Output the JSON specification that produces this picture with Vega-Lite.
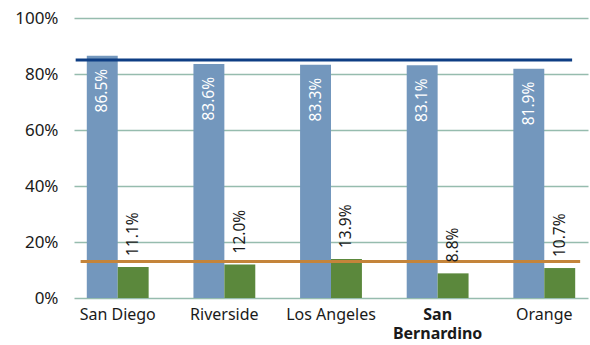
{
  "$schema": "https://vega.github.io/schema/vega-lite/v6.json",
  "autosize": "none",
  "width": 514,
  "height": 280,
  "padding": {"left": 74, "top": 18, "right": 2, "bottom": 47},
  "background": "white",
  "config": {"view": {"stroke": null}, "font": "Noto Sans"},
  "datasets": {
    "bars": [
      {"city": "San Diego", "series": "A", "value": 86.5, "label": "86.5%"},
      {"city": "San Diego", "series": "B", "value": 11.1, "label": "11.1%"},
      {"city": "Riverside", "series": "A", "value": 83.6, "label": "83.6%"},
      {"city": "Riverside", "series": "B", "value": 12.0, "label": "12.0%"},
      {"city": "Los Angeles", "series": "A", "value": 83.3, "label": "83.3%"},
      {"city": "Los Angeles", "series": "B", "value": 13.9, "label": "13.9%"},
      {"city": "San Bernardino", "series": "A", "value": 83.1, "label": "83.1%"},
      {"city": "San Bernardino", "series": "B", "value": 8.8, "label": "8.8%"},
      {"city": "Orange", "series": "A", "value": 81.9, "label": "81.9%"},
      {"city": "Orange", "series": "B", "value": 10.7, "label": "10.7%"}
    ]
  },
  "layer": [
    {
      "data": {"name": "bars"},
      "mark": {"type": "bar"},
      "encoding": {
        "x": {
          "field": "city", "type": "nominal", "sort": null,
          "scale": {"paddingInner": 0.42, "paddingOuter": 0.12},
          "axis": {
            "title": null, "ticks": false, "domain": false, "labelAngle": 0,
            "labelFontSize": 16, "labelColor": "#1a1a1a", "labelPadding": 8,
            "labelExpr": "datum.value == 'San Bernardino' ? ['San', 'Bernardino'] : datum.label",
            "labelFontWeight": {"condition": {"test": "datum.value == 'San Bernardino'", "value": "bold"}, "value": "normal"},
            "labelLineHeight": 19
          }
        },
        "xOffset": {"field": "series", "type": "nominal", "scale": {"paddingInner": 0}},
        "y": {
          "field": "value", "type": "quantitative",
          "scale": {"domain": [0, 100]},
          "axis": {
            "title": null, "ticks": false, "domain": false,
            "values": [0, 20, 40, 60, 80, 100],
            "labelExpr": "datum.value + '%'",
            "labelFontSize": 17, "labelColor": "#1a1a1a", "labelPadding": 16,
            "gridColor": "#96bcae", "gridWidth": 1.5
          }
        },
        "color": {"field": "series", "type": "nominal", "legend": null,
          "scale": {"domain": ["A", "B"], "range": ["#7397bd", "#5b883c"]}}
      }
    },
    {
      "data": {"values": [{"ref": 85}]},
      "mark": {"type": "rule", "color": "#0e3e84", "strokeWidth": 3},
      "encoding": {
        "y": {"field": "ref", "type": "quantitative"},
        "x": {"datum": "San Diego", "bandPosition": -0.18},
        "x2": {"datum": "Orange", "bandPosition": 0.95}
      }
    },
    {
      "data": {"values": [{"ref": 13}]},
      "mark": {"type": "rule", "color": "#c4843a", "strokeWidth": 3},
      "encoding": {
        "y": {"field": "ref", "type": "quantitative"},
        "x": {"datum": "San Diego", "bandPosition": -0.1},
        "x2": {"datum": "Orange", "bandPosition": 1.08}
      }
    },
    {
      "data": {"name": "bars"},
      "transform": [{"filter": "datum.series == 'A'"}],
      "mark": {"type": "text", "angle": 270, "align": "right", "baseline": "middle", "dx": -13, "fontSize": 15.5, "color": "white"},
      "encoding": {
        "x": {"field": "city", "type": "nominal", "sort": null},
        "xOffset": {"field": "series", "type": "nominal"},
        "y": {"field": "value", "type": "quantitative"},
        "text": {"field": "label"}
      }
    },
    {
      "data": {"name": "bars"},
      "transform": [{"filter": "datum.series == 'B'"}],
      "mark": {"type": "text", "angle": 270, "align": "left", "baseline": "middle", "dx": 11, "fontSize": 15.5, "color": "#1a1a1a"},
      "encoding": {
        "x": {"field": "city", "type": "nominal", "sort": null},
        "xOffset": {"field": "series", "type": "nominal"},
        "y": {"field": "value", "type": "quantitative"},
        "text": {"field": "label"}
      }
    }
  ]
}
